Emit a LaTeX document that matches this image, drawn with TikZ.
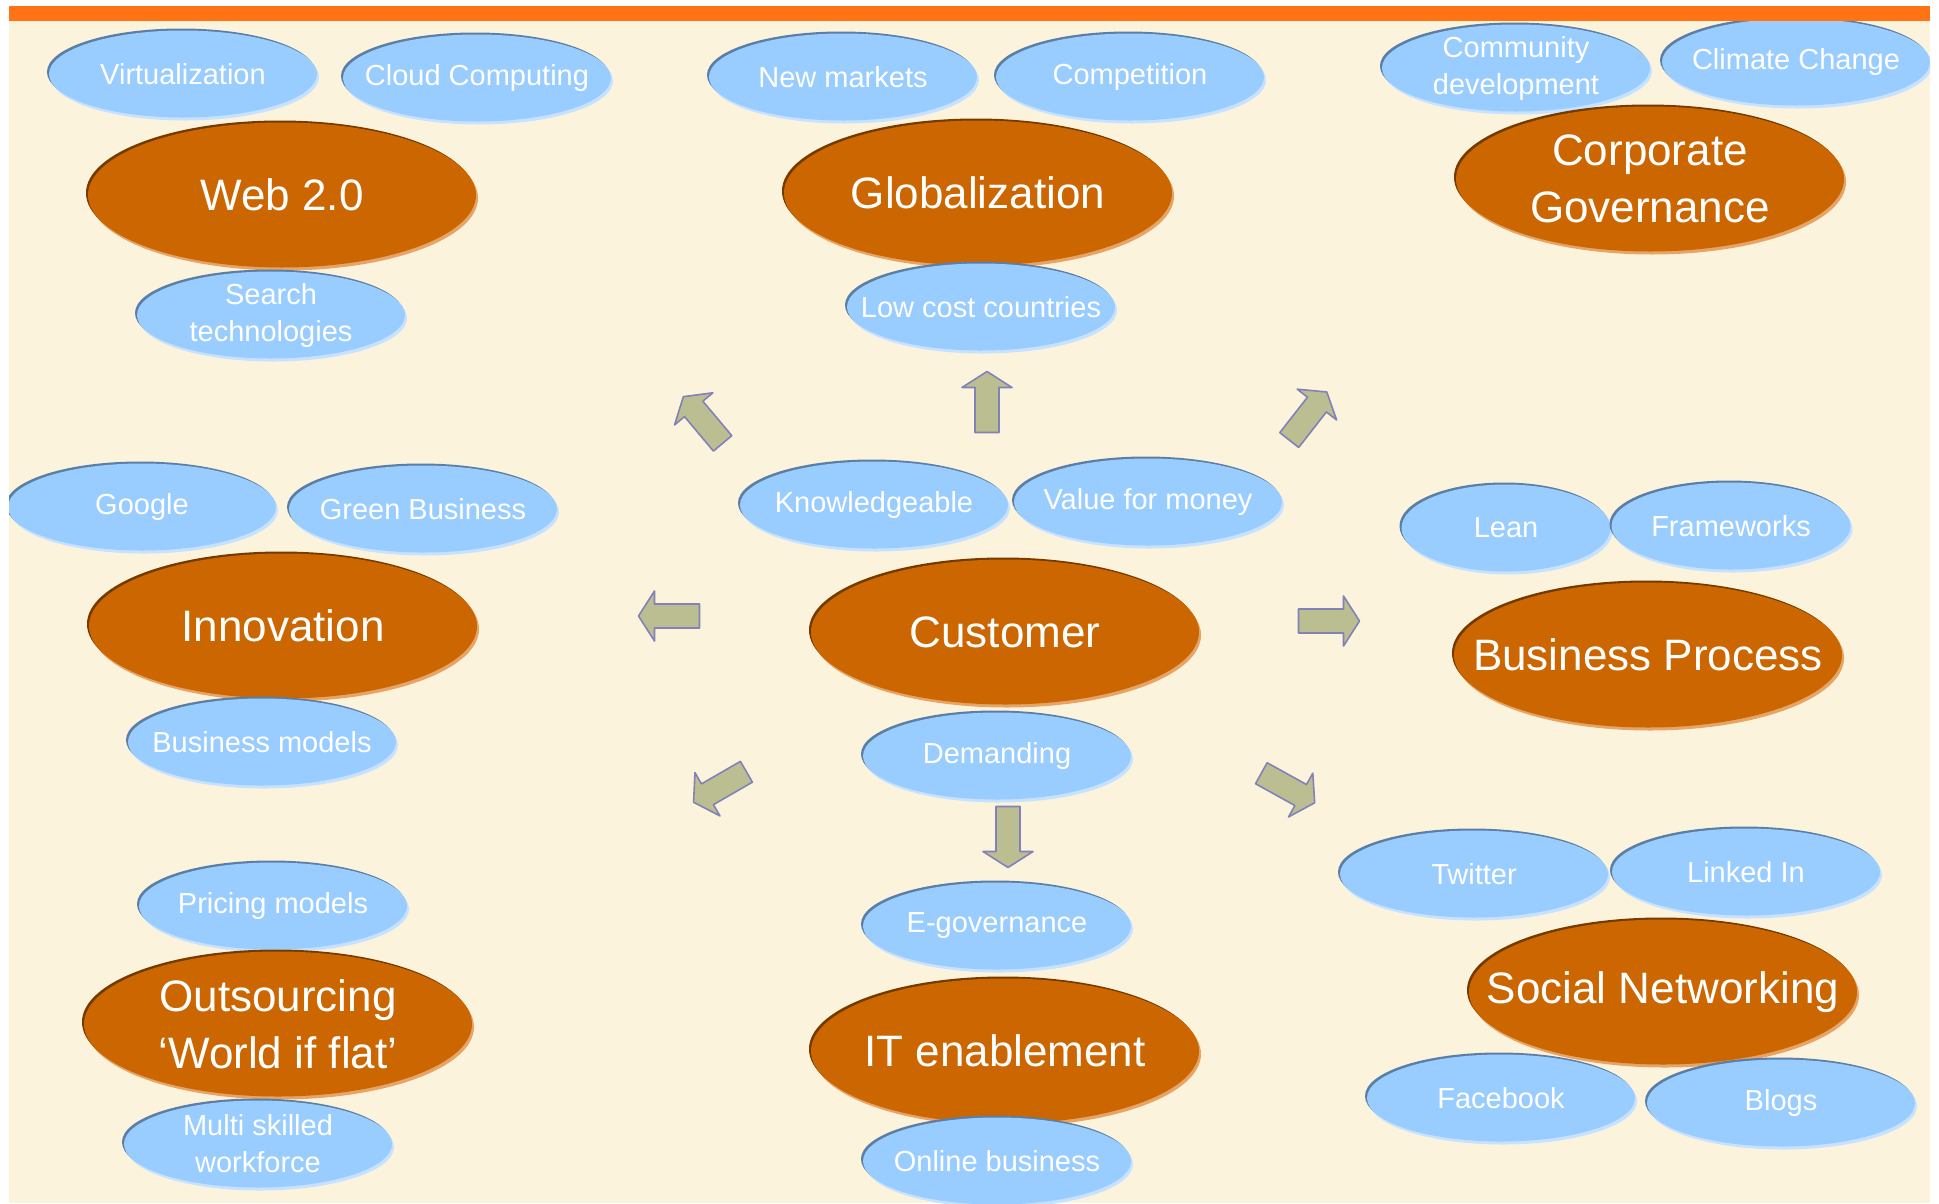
\documentclass[tikz,border=0pt]{standalone}
\usepackage{fontspec}
\setmainfont{Liberation Sans}
\usetikzlibrary{shapes.geometric}

\definecolor{cream}{HTML}{FCF3DC}
\definecolor{barorange}{HTML}{FF7315}
\definecolor{skyfill}{HTML}{99CCFF}
\definecolor{skyrim}{HTML}{5A7EA6}
\definecolor{skyglow}{HTML}{C6E2FF}
\definecolor{rust}{HTML}{CC6600}
\definecolor{rustrim}{HTML}{753A00}
\definecolor{rustglow}{HTML}{E6A468}
\definecolor{khaki}{HTML}{BBBE90}
\definecolor{khakirim}{HTML}{8282B8}

\begin{document}
\begin{tikzpicture}[
    x=1pt, y=-1pt, line join=round,
    blob/.style={ellipse, text=white, inner xsep=-70pt, inner ysep=-20pt, align=center},
    bubble/.style={blob, fill=skyfill, minimum width=268pt, minimum height=87pt,
        font=\fontsize{29}{37}\selectfont,
        preaction={fill=skyglow, transform canvas={shift={(2pt,-3pt)}}},
        preaction={fill=skyrim, transform canvas={shift={(-2pt,2pt)}}}},
    topic/.style={blob, fill=rust, minimum width=388pt, minimum height=145pt,
        font=\fontsize{44}{57}\selectfont,
        preaction={fill=rustglow, transform canvas={shift={(2pt,-3pt)}}},
        preaction={fill=rustrim, transform canvas={shift={(-2pt,2pt)}}}},
    fatarrow/.style={draw=khakirim, fill=khaki, line width=1.6pt}
  ]
  \useasboundingbox (0,0) rectangle (1939,1203);

  % ---- page ----
  \fill[cream] (9,21) rectangle (1930,1203);
  \fill[barorange] (9,6) rectangle (1930,21);

  \begin{scope}
    \clip (9,21) rectangle (1930,1203);

    %==================== TOP ROW ====================
    % Web 2.0
    \node[bubble] (virt) at (183,74) {Virtualization};
    \node[bubble] (cloud) at (477,78) {Cloud Computing};
    \node[topic] (web) at (282,195) {Web 2.0};
    \node[bubble] (search) at (271,315) {Search\\technologies};

    % Globalization
    \node[bubble] (newmk) at (843,77) {New markets};
    \node[bubble] (compet) at (1130,77) {Competition};
    \node[topic] (glob) at (978,193) {Globalization};
    \node[bubble] (lowcost) at (981,307) {Low cost countries};

    % Corporate Governance
    \node[bubble] (commdev) at (1516,68) {Community\\development};
    \node[bubble] (climate) at (1796,62) {Climate Change};
    \node[topic] (corpgov) at (1650,179) {Corporate\\Governance};

    %==================== MIDDLE ROW ====================
    % Innovation
    \node[bubble] (google) at (142,507) {Google};
    \node[bubble] (greenbiz) at (423,509) {Green Business};
    \node[topic] (innov) at (283,626) {Innovation};
    \node[bubble] (bizmod) at (262,742) {Business models};

    % Customer (hub)
    \node[bubble] (knowl) at (874,505) {Knowledgeable};
    \node[bubble] (value) at (1148,502) {Value for money};
    \node[topic] (cust) at (1005,632) {Customer};
    \node[bubble] (demand) at (997,756) {Demanding};

    % Business Process
    \node[bubble, minimum width=209pt] (lean) at (1506,528) {Lean};
    \node[bubble, minimum width=239pt] (frame) at (1731,526) {Frameworks};
    \node[topic] (bizproc) at (1648,655) {Business Process};

    %==================== BOTTOM ROW ====================
    % Outsourcing
    \node[bubble] (pricing) at (273,906) {Pricing models};
    \node[topic] (outsrc) at (278,1024) {Outsourcing\\`World if flat'};
    \node[bubble] (multi) at (258,1144) {Multi skilled\\workforce};

    % IT enablement
    \node[bubble] (egov) at (997,926) {E-governance};
    \node[topic] (itena) at (1005,1051) {IT enablement};
    \node[bubble] (online) at (997,1161) {Online business};

    % Social Networking
    \node[bubble] (twitter) at (1474,874) {Twitter};
    \node[bubble] (linked) at (1746,872) {Linked In};
    \node[topic] (social) at (1663,992) {Social Networking};
    \node[bubble] (fbook) at (1501,1098) {Facebook};
    \node[bubble] (blogs) at (1781,1103) {Blogs};
  \end{scope}

  % block arrows round the customer: x, y, direction
  \foreach \x/\y/\a in {703/420/130, 987/402/90, 1308/416/52,
      669/616/180, 1329/621/0,
      720/787/210, 1008/837/270, 1288/788/331} {
      \draw[fatarrow, shift={(\x,\y)}, rotate=\a]
        (-30.5,-12) -- (14.5,-12) -- (14.5,-25) -- (30.5,0)
        -- (14.5,25) -- (14.5,12) -- (-30.5,12) -- cycle;
    }

\end{tikzpicture}
\end{document}
